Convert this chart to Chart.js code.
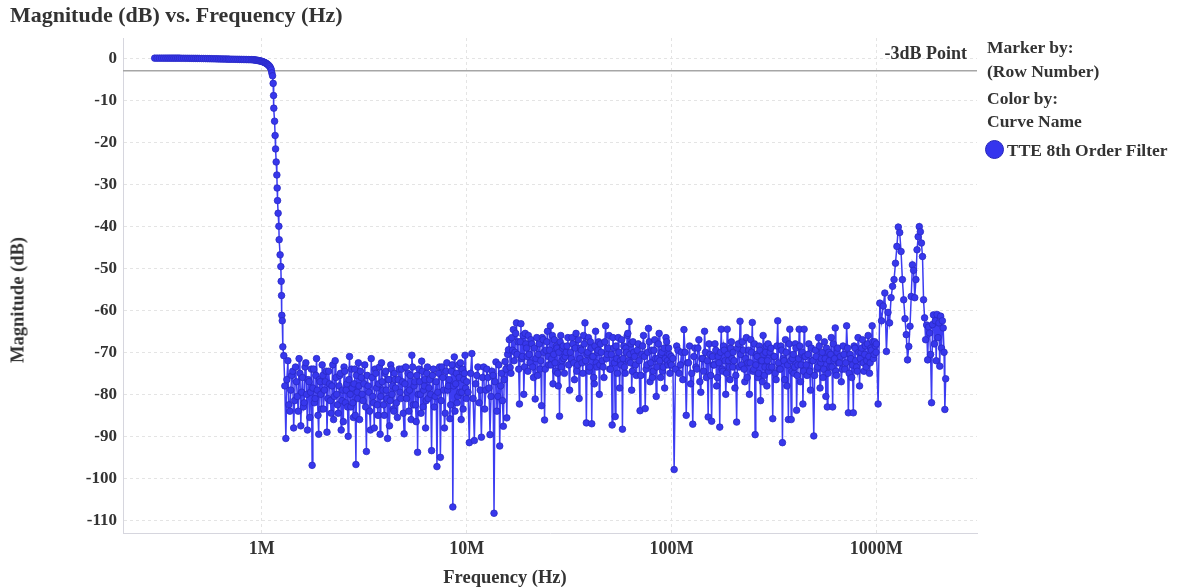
<!DOCTYPE html>
<html>
<head>
<meta charset="utf-8">
<script src="https://cdn.jsdelivr.net/npm/chart.js@4.4.1/dist/chart.umd.min.js"></script>
<style>
  body { margin: 0; background: #fff; }
  #wrap { position: relative; width: 1185px; height: 587px; font-family: "Liberation Serif", serif; font-weight: bold; color: #333; }
  #title { position: absolute; left: 10px; top: 2px; font-size: 22px; }
  .leg { position: absolute; left: 987px; font-size: 17.5px; white-space: nowrap; }
  .dot { display: inline-block; width: 17px; height: 17px; border-radius: 50%; background: #3535ee; border: 1px solid #2626b8; vertical-align: -3px; margin-right: 3px; }
  #xTitle { position: absolute; left: 505px; top: 577px; transform: translate(-50%, -50%); font-size: 18.5px; white-space: nowrap; }
  #yTitle { position: absolute; left: 18px; top: 300px; transform: translate(-50%, -50%) rotate(-90deg); font-size: 18.5px; white-space: nowrap; }
</style>
</head>
<body>
<div id="wrap">
  <canvas id="chart" width="1185" height="587"></canvas>
  <div id="title">Magnitude (dB) vs. Frequency (Hz)</div>
  <div id="xTitle">Frequency (Hz)</div>
  <div id="yTitle">Magnitude (dB)</div>
  <div class="leg" style="top:37px">Marker by:</div>
  <div class="leg" style="top:61px">(Row Number)</div>
  <div class="leg" style="top:88px">Color by:</div>
  <div class="leg" style="top:111px">Curve Name</div>
  <div class="leg" style="top:140px; left:985px"><span class="dot"></span>TTE 8th Order Filter</div>
</div>
<script>
// frequencies in MHz, magnitudes in dB
const seriesName = 'TTE 8th Order Filter';

const flatFreq = [0.300,0.308,0.316,0.324,0.332,0.340,0.348,0.356,0.364,0.372,0.380,0.388,0.396,
  0.405,0.415,0.425,0.435,0.445,0.455,0.465,0.475,0.485,0.495,
  0.507,0.519,0.531,0.543,0.555,0.567,0.579,0.591,0.603,0.615,0.627,0.639,0.651,0.663,0.675,0.687,0.699,
  0.715,0.731,0.747,0.763,0.779,0.795,0.811,0.827,0.843,0.859,0.875,0.891,
  0.905,0.915,0.925,0.935,0.945,0.955,0.965,0.975,0.985,0.995,
  1.005,1.015,1.025,1.035,1.045,1.055,1.065,1.075,1.085,1.095,1.105,1.112];
const flatMag = [0,0,0,0,0,0,0,0,0,0,0,0,0,
  -0.02,-0.02,-0.03,-0.03,-0.04,-0.04,-0.05,-0.05,-0.06,-0.06,
  -0.08,-0.09,-0.1,-0.11,-0.12,-0.13,-0.14,-0.15,-0.16,-0.17,-0.18,-0.19,-0.2,-0.21,-0.22,-0.23,-0.24,
  -0.25,-0.26,-0.27,-0.28,-0.29,-0.3,-0.31,-0.32,-0.33,-0.34,-0.35,-0.36,
  -0.38,-0.4,-0.43,-0.46,-0.5,-0.54,-0.58,-0.63,-0.68,-0.74,
  -0.8,-0.88,-0.97,-1.07,-1.18,-1.3,-1.45,-1.62,-1.82,-2.05,-2.4,-2.8];

const rolloffFreq = [1.119,1.128,1.136,1.141,1.144,1.154,1.161,1.167,1.175,1.184,1.188,1.193,1.201,1.211,1.215,1.228,1.238,1.243,1.248,1.252,1.258,1.266];
const rolloffMag = [-3.5,-4.2,-6.0,-8.9,-11.9,-15.0,-18.4,-21.6,-24.7,-27.8,-30.9,-33.9,-36.9,-40.0,-43.2,-46.8,-49.6,-53.1,-56.5,-61.2,-62.5,-68.7];

const noiseFreq1 = [1.28,1.31,1.34,1.37,1.40,1.43,1.46,1.49,1.52,1.55,1.58,1.61,1.64,1.67,1.70,1.73,1.76,1.79,1.82,1.85,1.88,1.91,1.94,1.97,
  2.00,2.04,2.08,2.12,2.16,2.20,2.24,2.28,2.32,2.36,2.40,2.44,2.48,2.52,2.56,2.60,2.64,2.68,2.72,2.76,2.80,2.84,2.88,2.92,2.96,
  3.00,3.06,3.12,3.18,3.24,3.30,3.36,3.42,3.48,3.54,3.60,3.66,3.72,3.78,3.84,3.90,3.96,4.02,4.08,4.14,4.20,4.26,4.32,4.38,4.44,
  4.50,4.59,4.68,4.77,4.86,4.95,5.04,5.13,5.22,5.31,5.40,5.49,5.58,5.67,5.76,5.85,5.94,6.03,6.12,6.21,6.30,6.39,6.48,
  6.60,6.74,6.88,7.02,7.16,7.30,7.44,7.58,7.72,7.86,8.00,8.14,8.28,8.42,8.56,8.70,8.84,8.98,9.12,9.26,9.40,9.54,9.68,9.82,9.96];
const noiseMag1 = [-70.8,-90.5,-72.0,-84.0,-75.5,-88.0,-73.5,-80.5,-71.5,-87.5,-76.0,-82.0,-72.5,-88.5,-77.0,-79.5,-96.9,-74.0,-81.0,-71.5,-85.0,-76.5,-80.0,-73.0,
  -83.5,-77.0,-89.0,-74.5,-81.5,-78.0,-86.0,-72.0,-80.0,-84.5,-75.5,-88.5,-79.0,-73.5,-82.0,-77.5,-90.0,-71.0,-83.0,-78.5,-85.5,-74.0,-96.7,-79.5,-72.5,
  -86.0,-76.0,-81.5,-73.0,-93.6,-78.0,-84.0,-71.5,-80.5,-88.0,-75.0,-82.5,-77.5,-89.5,-72.5,-79.0,-85.0,-74.5,-81.0,-76.5,-87.5,-73.0,-80.0,-83.5,-75.0,
  -78.5,-85.5,-74.0,-81.0,-77.0,-89.4,-73.5,-79.5,-84.0,-75.5,-70.7,-82.5,-77.0,-86.5,-93.8,-74.0,-80.0,-72.1,-83.0,-78.0,-88.0,-75.0,-81.0,
  -76.5,-93.4,-74.0,-80.5,-97.2,-75.0,-95.0,-73.5,-79.0,-84.5,-72.5,-78.0,-85.8,-74.5,-106.8,-71.1,-77.5,-82.0,-73.0,-79.5,-86.0,-74.0,-76.5,-70.7,-81.0];
const noiseFreq1b = [1.295,1.325,1.355,1.385,1.415,1.445,1.475,1.505,1.535,1.565,1.595,1.625,1.655,1.685,1.715,1.745,1.775,1.805,1.835,1.865,1.895,1.925,1.955,1.985,
  2.02,2.06,2.10,2.14,2.18,2.22,2.26,2.30,2.34,2.38,2.42,2.46,2.50,2.54,2.58,2.62,2.66,2.70,2.74,2.78,2.82,2.86,2.90,2.94,2.98,
  3.03,3.09,3.15,3.21,3.27,3.33,3.39,3.45,3.51,3.57,3.63,3.69,3.75,3.81,3.87,3.93,3.99,4.05,4.11,4.17,4.23,4.29,4.35,4.41,4.47,
  4.545,4.635,4.725,4.815,4.905,4.995,5.085,5.175,5.265,5.355,5.445,5.535,5.625,5.715,5.805,5.895,5.985,6.075,6.165,6.255,6.345,6.435,6.54,
  6.67,6.81,6.95,7.09,7.23,7.37,7.51,7.65,7.79,7.93,8.07,8.21,8.35,8.49,8.63,8.77,8.91,9.05,9.19,9.33,9.47,9.61,9.75,9.89];
const noiseMag1b = [-78.0,-76.5,-82.5,-79.0,-74.5,-81.5,-77.0,-84.0,-75.0,-79.5,-83.0,-73.5,-80.0,-76.5,-85.5,-74.0,-78.5,-82.0,-75.5,-79.0,-89.5,-77.0,-83.5,-75.5,
  -79.0,-74.5,-81.0,-77.5,-84.5,-73.0,-80.5,-76.0,-82.5,-78.0,-75.0,-81.5,-86.5,-74.5,-79.0,-83.0,-76.5,-80.0,-74.0,-82.0,-77.5,-85.0,-75.5,-81.0,-78.0,
  -74.5,-80.0,-77.5,-83.0,-75.5,-79.5,-88.5,-76.0,-82.0,-74.0,-78.5,-85.0,-73.5,-80.5,-77.0,-82.5,-75.0,-79.0,-90.5,-76.5,-81.5,-74.0,-78.0,-84.0,-76.5,
  -82.0,-76.5,-79.5,-74.0,-84.5,-77.5,-81.0,-75.0,-79.0,-86.0,-73.5,-78.0,-82.5,-75.5,-80.0,-77.0,-84.5,-74.5,-79.0,-76.5,-81.5,-73.5,-78.5,
  -80.0,-75.5,-83.0,-77.0,-79.5,-73.5,-81.5,-76.0,-88.0,-74.5,-79.0,-76.5,-82.5,-73.0,-78.0,-84.0,-75.0,-80.5,-76.0,-72.5,-79.5,-83.5,-75.0,-78.5];

const noiseFreq2 = [10.0,10.3,10.6,10.9,11.2,11.5,11.8,12.1,12.4,12.7,13.0,13.3,13.6,13.9,14.2,14.5,14.8,15.1,15.4,15.7,16.0,16.3,16.6,16.9,17.2,17.5,17.8,18.1,18.4,18.7,19.0,19.3,19.6,19.9,
  20.0,20.4,20.8,21.2,21.6,22.0,22.4,22.8,23.2,23.6,24.0,24.4,24.8,25.2,25.6,26.0,26.4,26.8,27.2,27.6,28.0,28.4,28.8,29.2,29.6,
  30.0,30.6,31.2,31.8,32.4,33.0,33.6,34.2,34.8,35.4,36.0,36.6,37.2,37.8,38.4,39.0,39.6,40.2,40.8,41.4,42.0,42.6,43.2,43.8,44.4,
  45.0,45.9,46.8,47.7,48.6,49.5,50.4,51.3,52.2,53.1,54.0,54.9,55.8,56.7,57.6,58.5,59.4,60.3,61.2,62.1,63.0,63.9,64.8,
  66.0,67.4,68.8,70.2,71.6,73.0,74.4,75.8,77.2,78.6,80.0,81.4,82.8,84.2,85.6,87.0,88.4,89.8,91.2,92.6,94.0,95.4,96.8,98.2,99.6];
const noiseMag2 = [-77.0,-91.5,-70.3,-91.0,-75.5,-82.0,-90.2,-73.5,-79.0,-76.0,-89.6,-74.5,-108.3,-72.3,-80.5,-92.3,-75.0,-87.6,-72.2,-85.6,-69.4,-73.6,-66.5,-64.6,-70.0,-63.0,-67.5,-82.3,-63.2,-71.0,-80.0,-65.5,-69.0,-74.5,
  -66.0,-72.5,-68.0,-76.0,-81.1,-66.5,-70.5,-74.0,-82.7,-67.0,-86.1,-69.5,-65.0,-73.0,-63.7,-71.5,-77.5,-67.0,-74.5,-69.0,-78.0,-85.2,-66.0,-72.0,-68.5,
  -75.0,-70.0,-66.5,-79.0,-71.5,-68.0,-76.5,-65.5,-73.0,-81.0,-69.0,-72.5,-66.0,-63.0,-86.8,-70.0,-74.5,-67.5,-87.0,-71.0,-77.5,-65.0,-73.5,-69.5,-80.0,
  -68.0,-72.0,-76.0,-63.7,-70.5,-66.0,-74.0,-87.3,-69.0,-85.3,-71.5,-66.5,-78.5,-73.0,-88.3,-68.5,-75.0,-70.0,-65.5,-62.7,-72.5,-79.0,-67.5,
  -71.0,-75.5,-68.0,-83.9,-70.5,-66.0,-83.4,-73.0,-64.3,-77.0,-69.5,-74.5,-67.0,-80.5,-71.5,-65.5,-76.0,-70.0,-73.5,-78.5,-66.5,-72.0,-69.0,-75.0,-71.0];
const noiseFreq2b = [10.15,10.45,10.75,11.05,11.35,11.65,11.95,12.25,12.55,12.85,13.15,13.45,13.75,14.05,14.35,14.65,14.95,15.25,15.55,15.85,16.15,16.45,16.75,17.05,17.35,17.65,17.95,18.25,18.55,18.85,19.15,19.45,19.75,
  20.2,20.6,21.0,21.4,21.8,22.2,22.6,23.0,23.4,23.8,24.2,24.6,25.0,25.4,25.8,26.2,26.6,27.0,27.4,27.8,28.2,28.6,29.0,29.4,29.8,
  30.3,30.9,31.5,32.1,32.7,33.3,33.9,34.5,35.1,35.7,36.3,36.9,37.5,38.1,38.7,39.3,39.9,40.5,41.1,41.7,42.3,42.9,43.5,44.1,44.7,
  45.45,46.35,47.25,48.15,49.05,49.95,50.85,51.75,52.65,53.55,54.45,55.35,56.25,57.15,58.05,58.95,59.85,60.75,61.65,62.55,63.45,64.35,65.4,
  66.7,68.1,69.5,70.9,72.3,73.7,75.1,76.5,77.9,79.3,80.7,82.1,83.5,84.9,86.3,87.7,89.1,90.5,91.9,93.3,94.7,96.1,97.5,98.9];
const noiseMag2b = [-79.5,-75.0,-81.0,-77.5,-73.5,-79.0,-76.0,-83.5,-74.0,-78.5,-80.5,-75.5,-77.0,-84.0,-73.0,-78.0,-81.5,-76.5,-74.0,-70.5,-67.0,-75.0,-69.5,-72.0,-65.5,-70.5,-74.0,-67.5,-71.5,-66.0,-73.5,-68.0,-71.0,
  -70.5,-67.0,-73.5,-69.0,-71.5,-75.5,-68.0,-72.0,-66.5,-70.0,-74.0,-67.5,-71.0,-69.5,-73.0,-66.0,-70.5,-72.5,-68.5,-75.0,-70.0,-67.5,-73.5,-69.0,-71.5,
  -71.0,-68.5,-73.0,-70.0,-66.5,-72.5,-69.0,-74.5,-67.0,-71.5,-69.5,-75.0,-68.0,-72.0,-70.5,-66.5,-73.5,-69.0,-71.0,-76.0,-68.5,-72.5,-70.0,-67.5,-73.0,
  -70.0,-73.5,-67.5,-71.5,-69.0,-74.0,-70.5,-66.5,-72.5,-68.5,-75.0,-70.0,-72.0,-67.0,-71.5,-73.5,-69.0,-66.0,-72.0,-70.5,-68.0,-74.5,-70.0,
  -73.0,-69.5,-72.0,-75.5,-68.5,-71.0,-74.0,-70.0,-67.5,-72.5,-76.0,-69.5,-71.5,-73.5,-68.0,-72.0,-70.5,-74.5,-69.0,-71.5,-67.5,-73.0,-70.5,-72.5];

const noiseFreq3 = [100,103,106,109,112,115,118,121,124,127,130,133,136,139,142,145,148,151,154,157,160,163,166,169,172,175,178,181,184,187,190,193,196,199,
  200,204,208,212,216,220,224,228,232,236,240,244,248,252,256,260,264,268,272,276,280,284,288,292,296,
  300,306,312,318,324,330,336,342,348,354,360,366,372,378,384,390,396,402,408,414,420,426,432,438,444,
  450,459,468,477,486,495,504,513,522,531,540,549,558,567,576,585,594,603,612,621,630,639,648,
  660,674,688,702,716,730,744,758,772,786,800,814,828,842,856,870,884,898,912,926,940,954,968,982,996];
const noiseMag3 = [-73.0,-97.9,-68.5,-75.0,-70.0,-64.6,-85.0,-72.5,-77.5,-87.1,-69.0,-74.0,-67.0,-79.5,-71.5,-65.0,-76.0,-85.4,-70.5,-86.4,-73.0,-68.0,-78.0,-71.0,-87.8,-64.5,-74.5,-69.5,-80.0,-64.5,-72.0,-76.5,-67.5,-73.5,
  -70.0,-78.5,-86.6,-68.0,-62.6,-73.0,-69.5,-77.0,-66.5,-72.5,-80.0,-67.0,-62.9,-74.0,-89.6,-70.5,-76.0,-68.5,-81.5,-72.0,-66.0,-75.5,-70.0,-78.0,-68.0,
  -73.5,-69.0,-85.8,-71.0,-76.5,-62.5,-74.0,-68.5,-91.5,-72.0,-67.0,-78.0,-86.0,-64.5,-86.0,-71.5,-75.0,-68.0,-83.8,-73.0,-64.5,-77.0,-70.5,-82.3,-64.5,
  -71.0,-75.5,-68.0,-79.0,-72.0,-89.9,-69.5,-74.0,-66.5,-78.5,-71.5,-76.0,-67.5,-80.5,-83.0,-70.0,-73.5,-66.5,-83.0,-72.0,-64.2,-75.5,-69.0,
  -72.5,-77.0,-68.5,-74.0,-63.7,-84.4,-70.5,-76.0,-84.4,-69.0,-73.5,-66.5,-78.0,-70.0,-67.0,-74.5,-68.5,-72.0,-66.0,-75.0,-69.0,-63.7,-71.5,-67.5,-70.0];
const noiseFreq3b = [101.5,104.5,107.5,110.5,113.5,116.5,119.5,122.5,125.5,128.5,131.5,134.5,137.5,140.5,143.5,146.5,149.5,152.5,155.5,158.5,161.5,164.5,167.5,170.5,173.5,176.5,179.5,182.5,185.5,188.5,191.5,194.5,197.5,
  202,206,210,214,218,222,226,230,234,238,242,246,250,254,258,262,266,270,274,278,282,286,290,294,298,
  303,309,315,321,327,333,339,345,351,357,363,369,375,381,387,393,399,405,411,417,423,429,435,441,447,
  454.5,463.5,472.5,481.5,490.5,499.5,508.5,517.5,526.5,535.5,544.5,553.5,562.5,571.5,580.5,589.5,598.5,607.5,616.5,625.5,634.5,643.5,654,
  667,681,695,709,723,737,751,765,779,793,807,821,835,849,863,877,891,905,919,933,947,961,975,989];
const noiseMag3b = [-71.5,-74.0,-69.5,-73.0,-76.5,-70.0,-72.5,-68.5,-75.0,-71.0,-73.5,-69.0,-77.0,-71.5,-74.5,-70.0,-72.0,-68.0,-75.5,-71.0,-73.0,-69.5,-76.0,-72.5,-70.0,-74.0,-68.5,-72.0,-75.0,-70.5,-73.5,-69.0,-71.5,
  -72.0,-75.5,-69.0,-73.5,-70.5,-67.5,-74.0,-71.5,-76.0,-69.5,-72.5,-70.0,-74.5,-68.0,-73.0,-71.0,-75.0,-69.5,-72.0,-77.0,-70.5,-73.5,-68.5,-72.0,-74.5,
  -70.0,-73.5,-71.0,-75.0,-68.5,-72.5,-74.0,-69.5,-71.5,-76.5,-70.0,-73.0,-68.0,-72.0,-74.5,-70.5,-73.5,-69.0,-75.5,-71.5,-68.5,-73.0,-70.0,-74.5,-71.0,
  -73.0,-70.5,-74.5,-69.0,-72.0,-75.5,-71.0,-73.5,-68.5,-72.5,-70.0,-74.0,-71.5,-69.0,-75.0,-72.0,-70.5,-73.5,-68.0,-71.5,-74.5,-70.0,-72.5,
  -71.0,-74.0,-70.5,-72.5,-69.0,-75.0,-71.5,-73.0,-68.5,-72.0,-74.5,-70.0,-71.5,-69.0,-72.5,-70.5,-73.5,-68.0,-71.0,-72.5,-69.5,-67.5,-70.5,-68.5];

const noiseFreq4 = [1000,1020,1040,1060,1080,1100,1120,1140,1160,1180,1200,1220,1240,1260,1280,1300,1320,1340,1360,1380,
  1400,1420,1440,1460,1480,1500,1520,1540,1560,1580,1600,1620,1640,1660,1680,1700,1720,1740,1760,1780,
  1800,1820,1840,1860,1880,1900,1920,1940,1960,1980,2000,2020,2040,2060,2080,2100,2120,2140,2160,2180];
const noiseMag4 = [-68.0,-82.3,-58.3,-62.5,-59.0,-55.9,-69.8,-60.5,-63.0,-57.0,-54.3,-52.7,-48.8,-44.8,-40.2,-41.5,-46.0,-52.7,-57.5,-62.0,
  -65.8,-71.8,-68.6,-63.8,-56.7,-49.2,-50.5,-57.0,-52.7,-45.6,-42.5,-40.1,-41.3,-44.0,-47.2,-57.5,-61.8,-67.0,-63.5,-71.8,
  -64.0,-65.4,-70.5,-82.0,-63.4,-61.1,-68.0,-62.5,-72.0,-61.0,-66.5,-63.0,-73.3,-61.4,-69.0,-62.5,-64.2,-70.0,-83.6,-76.3];

const xTicks = [1, 10, 100, 1000];
const yTicks = [0, -10, -20, -30, -40, -50, -60, -70, -80, -90, -100, -110];
const refLevel = -3;
const refLabel = '-3dB Point';

const freqs = [].concat(flatFreq, rolloffFreq, noiseFreq1, noiseFreq1b, noiseFreq2, noiseFreq2b, noiseFreq3, noiseFreq3b, noiseFreq4);
const mags = [].concat(flatMag, rolloffMag, noiseMag1, noiseMag1b, noiseMag2, noiseMag2b, noiseMag3, noiseMag3b, noiseMag4);
const points = freqs.map((f, i) => ({ x: f, y: mags[i] })).sort((a, b) => a.x - b.x);

const textColor = '#333';
const tickFontY = { family: 'Liberation Serif', weight: 'bold', size: 17 };
const tickFontX = { family: 'Liberation Serif', weight: 'bold', size: 18 };

const refLinePlugin = {
  id: 'refLine',
  beforeDatasetsDraw(chart) {
    const { ctx, chartArea, scales } = chart;
    const y = scales.y.getPixelForValue(refLevel);
    ctx.save();
    ctx.strokeStyle = '#a6a6a6';
    ctx.lineWidth = 1.5;
    ctx.beginPath();
    ctx.moveTo(chartArea.left, y);
    ctx.lineTo(chartArea.right, y);
    ctx.stroke();
    ctx.fillStyle = textColor;
    ctx.font = 'bold 18px "Liberation Serif"';
    ctx.textAlign = 'right';
    ctx.textBaseline = 'alphabetic';
    ctx.fillText(refLabel, chartArea.right - 10, y - 12);
    ctx.restore();
  }
};

new Chart(document.getElementById('chart').getContext('2d'), {
  type: 'scatter',
  data: {
    datasets: [{
      label: seriesName,
      data: points,
      showLine: true,
      borderColor: '#3c3cf2',
      borderWidth: 1.5,
      pointRadius: 3.3,
      pointBackgroundColor: '#3737ec',
      pointBorderColor: '#2a2ac4',
      pointBorderWidth: 0.8
    }]
  },
  options: {
    responsive: false,
    animation: false,
    layout: { padding: { left: 0, right: 208, top: 38, bottom: 0 } },
    plugins: {
      legend: { display: false },
      tooltip: { enabled: false }
    },
    scales: {
      x: {
        type: 'logarithmic',
        min: 0.21,
        max: 3100,
        afterBuildTicks: ax => { ax.ticks = xTicks.map(v => ({ value: v })); },
        afterFit: ax => { ax.height = 54; },
        ticks: { callback: v => v + 'M', font: tickFontX, color: textColor, padding: 6, maxRotation: 0, autoSkip: false },
        grid: { color: '#e4e4e4', drawTicks: false },
        border: { color: '#d6d6de', dash: [3, 3] }
      },
      y: {
        min: -113,
        max: 4.8,
        afterBuildTicks: ax => { ax.ticks = yTicks.map(v => ({ value: v })); },
        afterFit: ax => { ax.width = 123; },
        ticks: { font: tickFontY, color: textColor, padding: 6 },
        grid: { color: '#e4e4e4', drawTicks: false },
        border: { color: '#d6d6de', dash: [3, 3] }
      }
    }
  },
  plugins: [refLinePlugin]
});
</script>
</body>
</html>
